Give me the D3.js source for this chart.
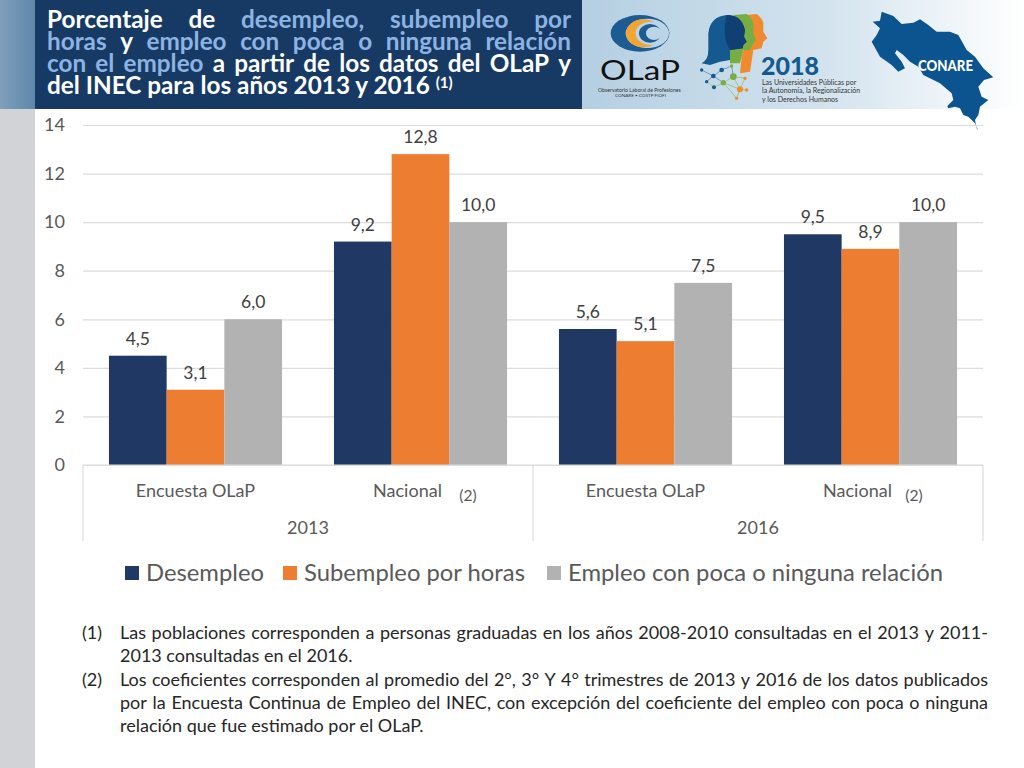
<!DOCTYPE html>
<html>
<head>
<meta charset="utf-8">
<script src="https://cdn.jsdelivr.net/npm/d3@7"></script>
<style>
  html, body { margin: 0; padding: 0; background: #fff; }
  svg { display: block; font-family: Lato, "Open Sans", sans-serif; }
</style>
</head>
<body>
<div id="chart"></div>
<script>
// datos
const years = ["2013", "2016"];
const categories = ["Encuesta OLaP", "Nacional", "Encuesta OLaP", "Nacional"];
const seriesNames = ["Desempleo", "Subempleo por horas", "Empleo con poca o ninguna relación"];
const seriesColors = ["#1f3864", "#ed7d31", "#b2b2b2"];
const desempleo = [4.5, 9.2, 5.6, 9.5];
const subempleo = [3.1, 12.8, 5.1, 8.9];
const pocaRelacion = [6.0, 10.0, 7.5, 10.0];
const seriesValues = [desempleo, subempleo, pocaRelacion];
const yTicks = [0, 2, 4, 6, 8, 10, 12, 14];

const titleLines = [
  [["Porcentaje de ", "w"], ["desempleo, subempleo por", "b"]],
  [["horas ", "b"], ["y ", "w"], ["empleo con poca o ninguna relación", "b"]],
  [["con el empleo ", "b"], ["a partir de los datos del OLaP y", "w"]]
];
const notes = [
  { mark: "(1)", lines: [
    "Las poblaciones corresponden a personas graduadas en los años 2008-2010 consultadas en el 2013 y 2011-",
    "2013 consultadas en el 2016."] },
  { mark: "(2)", lines: [
    "Los coeficientes corresponden al promedio del 2°, 3° Y 4° trimestres de 2013 y 2016 de los datos publicados",
    "por la Encuesta Continua de Empleo del INEC, con excepción del coeficiente del empleo con poca o ninguna",
    "relación que fue estimado por el OLaP."] }
];

const svg = d3.select("#chart").append("svg").attr("width", 1024).attr("height", 768);
const defs = svg.append("defs");

// fondo del encabezado
const headGrad = defs.append("linearGradient").attr("id", "headGrad");
headGrad.append("stop").attr("offset", "0%").attr("stop-color", "#b4cfe2");
headGrad.append("stop").attr("offset", "55%").attr("stop-color", "#d3e3ee");
headGrad.append("stop").attr("offset", "100%").attr("stop-color", "#ffffff");
const sideGrad = defs.append("linearGradient").attr("id", "sideGrad");
sideGrad.append("stop").attr("offset", "0%").attr("stop-color", "#7f9fbc");
sideGrad.append("stop").attr("offset", "100%").attr("stop-color", "#5f87aa");

svg.append("rect").attr("x", 0).attr("y", 109).attr("width", 35).attr("height", 659).attr("fill", "#d1d3d6");
svg.append("rect").attr("x", 0).attr("y", 0).attr("width", 35).attr("height", 109).attr("fill", "url(#sideGrad)");
svg.append("rect").attr("x", 582).attr("y", 0).attr("width", 442).attr("height", 109).attr("fill", "url(#headGrad)");
svg.append("rect").attr("x", 35).attr("y", 0).attr("width", 547).attr("height", 109).attr("fill", "#173a64");

// titulo justificado
const titleFont = "bold 24.3px Lato";
const ctx = document.createElement("canvas").getContext("2d");
function justifyRuns(g, runs, left, right, yPos, font, fill) {
  ctx.font = font;
  const words = [];
  runs.forEach(r => r[0].trim().split(" ").forEach(w => words.push({ t: w, c: r[1] })));
  const total = d3.sum(words, w => ctx.measureText(w.t).width);
  const gap = (right - left - total) / (words.length - 1);
  let x = left;
  words.forEach(w => {
    g.append("text").attr("x", x).attr("y", yPos).style("font", font)
      .attr("fill", fill ? fill : (w.c === "w" ? "#ffffff" : "#8db3e2")).text(w.t);
    x += ctx.measureText(w.t).width + gap;
  });
}
const titleG = svg.append("g");
titleLines.forEach((runs, i) => justifyRuns(titleG, runs, 47, 571, 28 + i * 22, titleFont));
const lastLine = titleG.append("text").attr("x", 47).attr("y", 94).attr("fill", "#fff").style("font", titleFont);
lastLine.append("tspan").text("del INEC para los años 2013 y 2016 ");
lastLine.append("tspan").attr("dy", -6).style("font-size", "15px").text("(1)");

// grafico
const plotLeft = 83, plotRight = 983, plotTop = 125, plotBottom = 465;
const y = d3.scaleLinear().domain([0, 14]).range([plotBottom, plotTop]);
const x0 = d3.scaleBand().domain(d3.range(categories.length)).range([plotLeft, plotRight]);
const x1 = d3.scaleBand().domain(d3.range(seriesNames.length)).range([0, x0.bandwidth()])
  .paddingInner(0).paddingOuter(0.45);

const yAxis = d3.axisLeft(y).tickValues(yTicks).tickSize(plotLeft - plotRight).tickPadding(18)
  .tickFormat(d3.format("d"));
const axisG = svg.append("g").attr("transform", `translate(${plotLeft},0)`).call(yAxis);
axisG.select(".domain").remove();
axisG.selectAll(".tick line").attr("stroke", "#dcdcdc").attr("stroke-width", 1.2);
axisG.selectAll(".tick text").attr("fill", "#595959").style("font-size", "18px").style("font-family", "Lato");

const decimal = v => v.toFixed(1).replace(".", ",");
seriesNames.forEach((name, s) => {
  const g = svg.append("g");
  g.selectAll("rect").data(seriesValues[s]).enter().append("rect")
    .attr("x", (d, i) => x0(i) + x1(s))
    .attr("y", d => y(d))
    .attr("width", x1.bandwidth())
    .attr("height", d => plotBottom - y(d))
    .attr("fill", seriesColors[s]);
  g.selectAll("text").data(seriesValues[s]).enter().append("text")
    .attr("x", (d, i) => x0(i) + x1(s) + x1.bandwidth() / 2)
    .attr("y", d => y(d) - 11)
    .attr("text-anchor", "middle").attr("fill", "#404040").style("font-size", "17.5px")
    .text(decimal);
});

// eje de categorias multinivel
const sepG = svg.append("g").attr("stroke", "#dcdcdc").attr("stroke-width", 1.2);
sepG.append("line").attr("x1", plotLeft).attr("x2", plotRight).attr("y1", plotBottom).attr("y2", plotBottom);
const yearBand = d3.scaleBand().domain(years).range([plotLeft, plotRight]);
[plotLeft, yearBand("2016"), plotRight].forEach(v => {
  sepG.append("line").attr("x1", v).attr("x2", v).attr("y1", plotBottom).attr("y2", 541);
});
svg.append("g").selectAll("text").data(categories).enter().append("text")
  .attr("x", (d, i) => x0(i) + x0.bandwidth() / 2 - (d === "Nacional" ? 13 : 0))
  .attr("y", 497).attr("text-anchor", "middle").attr("fill", "#595959").style("font-size", "18px")
  .text(d => d);
const markOffsets = [47.5, 43.5];
svg.append("g").selectAll("text").data([1, 3]).enter().append("text")
  .attr("x", (d, i) => x0(d) + x0.bandwidth() / 2 + markOffsets[i])
  .attr("y", 501).attr("text-anchor", "middle").attr("fill", "#595959").style("font-size", "15.5px")
  .text("(2)");
svg.append("g").selectAll("text").data(years).enter().append("text")
  .attr("x", d => yearBand(d) + yearBand.bandwidth() / 2)
  .attr("y", 534).attr("text-anchor", "middle").attr("fill", "#595959").style("font-size", "18px")
  .text(d => d);

// leyenda
const legendX = [125, 283, 547];
const legend = svg.append("g").selectAll("g").data(seriesNames).enter().append("g")
  .attr("transform", (d, i) => `translate(${legendX[i]},0)`);
legend.append("rect").attr("y", 566).attr("width", 14).attr("height", 14).attr("fill", (d, i) => seriesColors[i]);
legend.append("text").attr("x", 21).attr("y", 581).attr("fill", "#595959").style("font-size", "23.8px").text(d => d);

// notas
const noteFont = "18px Lato";
const notesG = svg.append("g");
let noteY = 639;
notes.forEach(n => {
  notesG.append("text").attr("x", 82).attr("y", noteY).attr("fill", "#262626").style("font", noteFont).text(n.mark);
  n.lines.forEach((l, i) => {
    if (i < n.lines.length - 1) {
      justifyRuns(notesG, [[l, "w"]], 120, 988, noteY, noteFont, "#262626");
    } else {
      notesG.append("text").attr("x", 120).attr("y", noteY).attr("fill", "#262626").style("font", noteFont).text(l);
    }
    noteY += 23.3;
  });
});

// logos del encabezado (dibujados a mano, coordenadas del recorte x3)
const logoBg = "#bcd5e6";
const olap = svg.append("g").attr("transform", "translate(590,0) scale(0.3333)");
[[150, 100, 88, 55, "#1c5c92"], [172, 100, 65, 44, logoBg], [160, 100, 52, 42, "#f2a533"],
 [182, 100, 45, 35, logoBg], [180, 100, 33, 28, "#1c5c92"], [192, 100, 24, 20, logoBg]].forEach(e => {
  olap.append("ellipse").attr("cx", e[0]).attr("cy", e[1]).attr("rx", e[2]).attr("ry", e[3]).attr("fill", e[4]);
});
const heads = [
  ["#f08a2c", "M470 45L500 42Q518 55 520 70L520 95L532 115L520 125L515 145L490 150L480 215L450 220L455 170L470 120Z"],
  ["#76ae43", "M430 45L470 42Q488 55 490 70L490 100L498 120L490 130L480 150L460 150L450 190L420 190L420 150L440 100Z"],
  ["#14598f", "M335 190Q355 180 355 150L355 100Q360 50 410 45Q455 45 465 90L462 110L470 125L460 135L458 145L420 150L420 180L390 185L360 195Z"],
  ["#103f73", "M410 45Q455 45 465 90L462 110L470 125L460 135L458 145L420 150Q395 110 410 45Z"]
];
heads.forEach(h => olap.append("path").attr("d", h[1]).attr("fill", h[0]));
const nodes = [[335, 210, 5, "#14598f"], [395, 210, 7, "#14598f"], [425, 198, 5, "#76ae43"], [370, 228, 7, "#14598f"],
  [430, 230, 10, "#76ae43"], [350, 245, 5, "#14598f"], [400, 248, 8, "#76ae43"], [465, 235, 5, "#f08a2c"],
  [372, 262, 6, "#14598f"], [450, 268, 9, "#f08a2c"], [440, 295, 5, "#f08a2c"], [470, 270, 5, "#f08a2c"]];
[[0, 3], [3, 1], [1, 2], [2, 4], [3, 5], [3, 6], [5, 8], [6, 8], [4, 6], [4, 9], [6, 9], [7, 9], [9, 10], [9, 11], [4, 7], [6, 10]].forEach(l => {
  olap.append("line").attr("x1", nodes[l[0]][0]).attr("y1", nodes[l[0]][1]).attr("x2", nodes[l[1]][0]).attr("y2", nodes[l[1]][1])
    .attr("stroke", l[0] > 3 ? "#8cbc62" : "#3f7fb0").attr("stroke-width", 2);
});
nodes.forEach(n => olap.append("circle").attr("cx", n[0]).attr("cy", n[1]).attr("r", n[2]).attr("fill", n[3]));

// mapa
svg.append("g").attr("transform", "translate(860,0) scale(0.3333)").append("path")
  .attr("d", "M38 65L60 62L65 35L100 48L125 72L160 68L180 58L205 75L230 95L270 95L295 105L320 150L345 170L370 205L400 232L372 240L355 260L365 290L385 300L360 320L355 345L345 360L350 385L355 392L345 370L325 350L310 345L300 325L285 320L265 325L262 318L280 300L275 280L240 250L190 225L175 200L150 185L130 165L110 150L105 160L125 185L135 205L115 215L95 195L60 170L35 125L50 105L60 85Z")
  .attr("fill", "#0b5490");

const logos = svg.append("g");
logos.append("text").attr("x", 600).attr("y", 80).attr("fill", "#111").attr("textLength", 80).attr("lengthAdjust", "spacingAndGlyphs")
  .style("font-size", "26px").text("OLaP");
logos.append("text").attr("x", 598).attr("y", 91.5).attr("fill", "#333").style("font-size", "5.2px").text("Observatorio Laboral de Profesiones");
logos.append("text").attr("x", 615).attr("y", 97).attr("fill", "#333").style("font-size", "4.6px").text("CONARE • COSTP FIOFI");
logos.append("text").attr("x", 761).attr("y", 75).attr("fill", "#14598f").attr("font-weight", 900).style("font-size", "25px").text("2018");
["Las Universidades Públicas por", "la Autonomía, la Regionalización", "y los Derechos Humanos"].forEach((t, i) => {
  logos.append("text").attr("x", 762).attr("y", 84.5 + i * 8.5).attr("fill", "#333").style("font-size", "7px").text(t);
});
logos.append("text").attr("x", 918).attr("y", 71).attr("fill", "#fff").attr("font-weight", 900).attr("textLength", 55).attr("lengthAdjust", "spacingAndGlyphs")
  .style("font-size", "15px").text("CONARE");
</script>
</body>
</html>
